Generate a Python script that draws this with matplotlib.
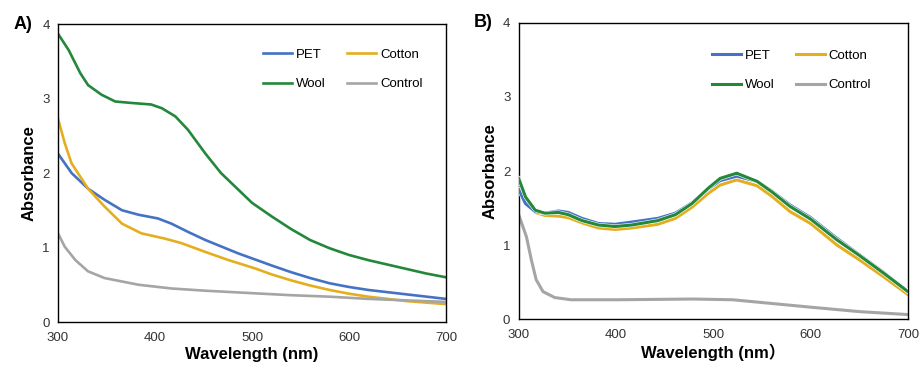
import numpy as np
import matplotlib
matplotlib.use("Agg")
import matplotlib.pyplot as plt
import matplotlib.patheffects as pe

plt.rcParams['font.family'] = ['Liberation Sans', 'Noto Sans CJK SC', 'DejaVu Sans']

# Panel A data (wavelength nm, absorbance)
a_wool_x = [300, 311, 323, 331, 345, 359, 376, 396, 407, 421, 434, 452, 468, 484, 500, 520, 540, 560, 580, 600, 620, 640, 660, 680, 700]
a_wool_y = [3.87, 3.65, 3.34, 3.18, 3.05, 2.96, 2.94, 2.92, 2.87, 2.76, 2.58, 2.26, 2.00, 1.80, 1.60, 1.42, 1.25, 1.10, 0.99, 0.90, 0.83, 0.77, 0.71, 0.65, 0.60]
a_pet_x = [300, 314, 331, 348, 366, 383, 403, 417, 434, 452, 469, 486, 503, 520, 540, 560, 580, 600, 620, 640, 660, 680, 700]
a_pet_y = [2.26, 2.00, 1.79, 1.64, 1.50, 1.44, 1.39, 1.32, 1.21, 1.10, 1.01, 0.92, 0.84, 0.76, 0.67, 0.59, 0.52, 0.47, 0.43, 0.40, 0.37, 0.34, 0.31]
a_cotton_x = [300, 307, 314, 331, 348, 366, 386, 410, 427, 452, 476, 503, 520, 540, 560, 580, 600, 620, 640, 660, 680, 700]
a_cotton_y = [2.73, 2.40, 2.13, 1.79, 1.55, 1.32, 1.19, 1.12, 1.06, 0.94, 0.83, 0.72, 0.64, 0.56, 0.49, 0.43, 0.38, 0.34, 0.31, 0.28, 0.26, 0.24]
a_ctrl_x = [300, 307, 318, 331, 348, 383, 417, 452, 503, 540, 580, 620, 660, 700]
a_ctrl_y = [1.19, 1.01, 0.83, 0.68, 0.59, 0.50, 0.45, 0.42, 0.385, 0.36, 0.34, 0.31, 0.29, 0.27]

# Panel B data
b_wool_x = [300, 307, 317, 327, 341, 351, 365, 382, 399, 416, 443, 461, 478, 495, 507, 524, 545, 560, 579, 600, 627, 650, 675, 700]
b_wool_y = [1.90, 1.65, 1.47, 1.43, 1.44, 1.41, 1.33, 1.27, 1.25, 1.27, 1.33, 1.41, 1.56, 1.77, 1.90, 1.97, 1.86, 1.72, 1.52, 1.35, 1.07, 0.86, 0.62, 0.37]
b_pet_x = [300, 307, 317, 327, 341, 351, 365, 382, 399, 416, 443, 461, 478, 495, 507, 524, 545, 560, 579, 600, 627, 650, 675, 700]
b_pet_y = [1.75, 1.56, 1.45, 1.43, 1.46, 1.44, 1.36, 1.29, 1.28, 1.31, 1.36, 1.43, 1.57, 1.76, 1.87, 1.93, 1.86, 1.73, 1.54, 1.37, 1.09, 0.87, 0.63, 0.37]
b_cotton_x = [300, 307, 317, 327, 341, 351, 365, 382, 399, 416, 443, 461, 478, 495, 507, 524, 545, 560, 579, 600, 627, 650, 675, 700]
b_cotton_y = [1.84, 1.60, 1.44, 1.40, 1.39, 1.37, 1.30, 1.23, 1.21, 1.23, 1.28, 1.36, 1.51, 1.70, 1.81, 1.88, 1.80, 1.66, 1.45, 1.29, 1.00, 0.80, 0.57, 0.33]
b_ctrl_x = [300, 308, 313, 318, 325, 337, 354, 400, 480, 520, 560, 600, 650, 700]
b_ctrl_y = [1.41, 1.11, 0.80, 0.53, 0.37, 0.29, 0.26, 0.26, 0.27, 0.26, 0.21, 0.16, 0.10, 0.06]

c_pet = '#4472C4'
c_cotton = '#E5AE1F'
c_wool = '#23883A'
c_ctrl = '#A5A5A5'

fig = plt.figure(figsize=(9.19, 3.65), dpi=100)
ax_a = fig.add_axes([0.0631, 0.1178, 0.4222, 0.8164])
ax_b = fig.add_axes([0.5644, 0.126, 0.4236, 0.811])


def style(ax, xlabel, tag, lx, ly):
    ax.set_xlim(300, 700)
    ax.set_ylim(0, 4)
    ax.set_xticks([300, 400, 500, 600, 700])
    ax.set_yticks([0, 1, 2, 3, 4])
    ax.tick_params(length=0, labelsize=9.5, colors='#333333')
    ax.tick_params(axis='x', pad=7)
    ax.tick_params(axis='y', pad=6)
    for s in ax.spines.values():
        s.set_color('black')
        s.set_linewidth(1.0)
    ax.set_xlabel(xlabel, fontsize=12, fontweight='bold', labelpad=2)
    ax.set_ylabel('Absorbance', fontsize=12, fontweight='bold', labelpad=4)
    ax.text(-0.115, 1.0, tag, transform=ax.transAxes, fontsize=13, fontweight='bold',
            ha='left', va='center')
    # handles are plotted PET, Wool, Cotton, Control so columns fill row-wise
    ax.legend(loc='upper left', bbox_to_anchor=(lx, ly), ncol=2, frameon=False,
              fontsize=9.5, handlelength=2.2, handletextpad=0.3, columnspacing=1.6,
              labelspacing=1.3)


ax_a.plot(a_pet_x, a_pet_y, color=c_pet, lw=1.9, label='PET')
ax_a.plot(a_wool_x, a_wool_y, color=c_wool, lw=1.9, label='Wool')
ax_a.plot(a_cotton_x, a_cotton_y, color=c_cotton, lw=1.9, label='Cotton')
ax_a.plot(a_ctrl_x, a_ctrl_y, color=c_ctrl, lw=1.9, label='Control')
style(ax_a, 'Wavelength (nm)', 'A)', 0.498, 0.957)

edge = [pe.Stroke(linewidth=3.0, foreground='white'), pe.Normal()]
ax_b.plot(b_pet_x, b_pet_y, color=c_pet, lw=2.2, label='PET', zorder=3, path_effects=edge)
ax_b.plot(b_wool_x, b_wool_y, color=c_wool, lw=2.2, label='Wool', zorder=4, path_effects=edge)
ax_b.plot(b_cotton_x, b_cotton_y, color=c_cotton, lw=2.2, label='Cotton', zorder=2, path_effects=edge)
ax_b.plot(b_ctrl_x, b_ctrl_y, color=c_ctrl, lw=2.2, label='Control')
style(ax_b, 'Wavelength (nm）', 'B)', 0.466, 0.95)

fig.savefig('out.png', dpi=100)
